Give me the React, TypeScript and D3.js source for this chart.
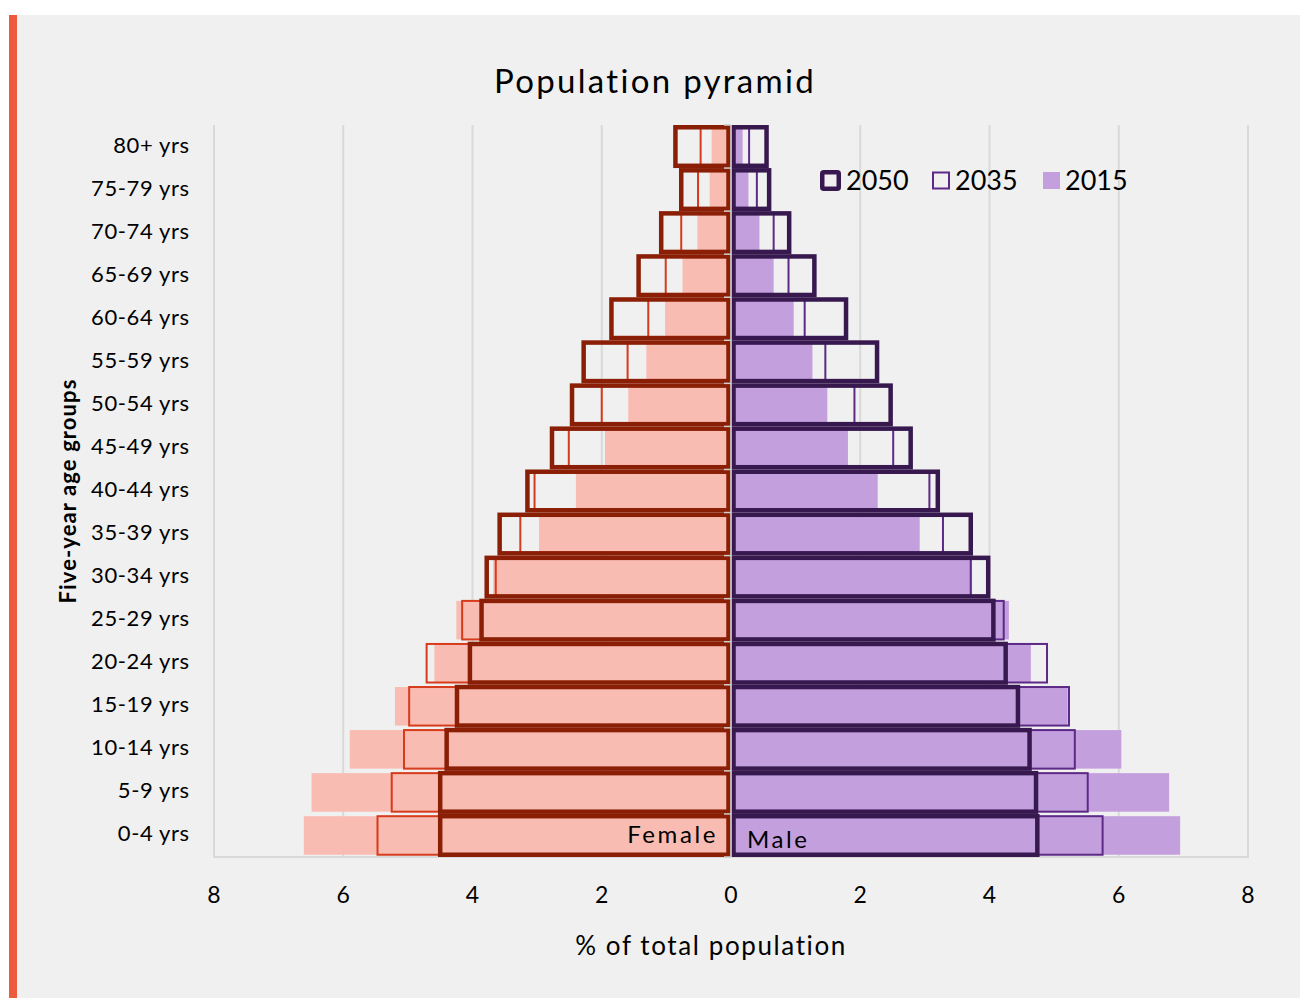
import { useRef, useEffect } from 'react';
import * as d3 from 'd3';

const WIDTH = 1300;
const HEIGHT = 998;
const PLOT = { left: 214, right: 1248, top: 125, bottom: 857 };
const FONT = 'Lato, "Open Sans", sans-serif';

// Age groups, bottom of the pyramid first.
const AGE_GROUPS = [
  '0-4 yrs', '5-9 yrs', '10-14 yrs', '15-19 yrs', '20-24 yrs', '25-29 yrs',
  '30-34 yrs', '35-39 yrs', '40-44 yrs', '45-49 yrs', '50-54 yrs', '55-59 yrs',
  '60-64 yrs', '65-69 yrs', '70-74 yrs', '75-79 yrs', '80+ yrs',
];
const X_TICKS = [-8, -6, -4, -2, 0, 2, 4, 6, 8];

// % of total population, same order as AGE_GROUPS.
const FEMALE_2015 = [6.61, 6.49, 5.90, 5.20, 4.59, 4.25, 3.68, 2.97, 2.40, 1.95, 1.59, 1.31, 1.02, 0.75, 0.52, 0.33, 0.30];
const FEMALE_2035 = [5.47, 5.25, 5.06, 4.98, 4.71, 4.16, 3.64, 3.26, 3.04, 2.51, 2.00, 1.60, 1.28, 1.01, 0.77, 0.51, 0.47];
const FEMALE_2050 = [4.50, 4.50, 4.40, 4.24, 4.04, 3.86, 3.78, 3.58, 3.15, 2.77, 2.46, 2.28, 1.85, 1.43, 1.08, 0.77, 0.86];

const MALE_2015 = [6.95, 6.78, 6.04, 5.21, 4.64, 4.30, 3.73, 2.92, 2.27, 1.81, 1.49, 1.26, 0.97, 0.66, 0.44, 0.27, 0.18];
const MALE_2035 = [5.75, 5.52, 5.32, 5.23, 4.89, 4.22, 3.71, 3.28, 3.07, 2.51, 1.91, 1.46, 1.14, 0.89, 0.66, 0.40, 0.28];
const MALE_2050 = [4.74, 4.72, 4.62, 4.44, 4.25, 4.06, 3.98, 3.71, 3.20, 2.78, 2.47, 2.26, 1.78, 1.29, 0.90, 0.59, 0.55];

const LEGEND_YEARS = ['2050', '2035', '2015'];

const FEMALE_COLORS = { fill: '#f9bcb2', mid: '#d63b1b', dark: '#8a1f06' };
const MALE_COLORS = { fill: '#c49fde', mid: '#5c2a86', dark: '#37184f' };

const STROKE_2050 = 4.5;
const STROKE_2035 = 2;
const CENTER_GAP = 2.5;

export default function App() {
  const svgRef = useRef<SVGSVGElement>(null);

  useEffect(() => {
    if (!svgRef.current) return;
    const svg = d3.select(svgRef.current);
    svg.selectAll('*').remove();

    // ── Scales ──────────────────────────────────────────────────────────
    const x = d3.scaleLinear().domain([-8, 8]).range([PLOT.left, PLOT.right]);
    const y = d3
      .scaleBand<string>()
      .domain([...AGE_GROUPS].reverse())
      .range([PLOT.top, PLOT.bottom])
      .paddingInner(0.105)
      .paddingOuter(0.0525);
    const x0 = x(0);

    // ── Background ──────────────────────────────────────────────────────
    svg.append('rect').attr('width', WIDTH).attr('height', HEIGHT).attr('fill', '#ffffff');
    svg.append('rect')
      .attr('x', 17).attr('y', 15)
      .attr('width', WIDTH - 17).attr('height', HEIGHT - 15)
      .attr('fill', '#f0f0f0');
    svg.append('rect')
      .attr('x', 9).attr('y', 15)
      .attr('width', 8).attr('height', HEIGHT - 15)
      .attr('fill', '#ee5a3e');

    // ── Grid ────────────────────────────────────────────────────────────
    svg.append('g')
      .selectAll('line')
      .data(X_TICKS.filter((d) => d !== 0))
      .join('line')
      .attr('x1', (d) => x(d)).attr('x2', (d) => x(d))
      .attr('y1', PLOT.top).attr('y2', PLOT.bottom)
      .attr('stroke', '#d9d9d9')
      .attr('stroke-width', 2);

    svg.append('line')
      .attr('x1', PLOT.left - 1).attr('x2', PLOT.right + 1)
      .attr('y1', PLOT.bottom).attr('y2', PLOT.bottom)
      .attr('stroke', '#d9d9d9')
      .attr('stroke-width', 2);

    // ── Bars ────────────────────────────────────────────────────────────
    const bh = y.bandwidth();

    const drawSide = (
      values: number[],
      sign: number,
      fill: string | null,
      stroke: string | null,
      strokeWidth: number,
    ) => {
      svg.append('g')
        .selectAll('rect')
        .data(values.map((v, i) => ({ v, age: AGE_GROUPS[i] })))
        .join('rect')
        .attr('x', (d) => (sign < 0 ? x(-d.v) : x0 + CENTER_GAP))
        .attr('width', (d) => Math.abs(x(sign * d.v) - x0) - CENTER_GAP)
        .attr('y', (d) => y(d.age)!)
        .attr('height', bh)
        .attr('fill', fill ?? 'none')
        .attr('stroke', stroke ?? 'none')
        .attr('stroke-width', strokeWidth);
    };

    drawSide(FEMALE_2015, -1, FEMALE_COLORS.fill, null, 0);
    drawSide(MALE_2015, 1, MALE_COLORS.fill, null, 0);
    drawSide(FEMALE_2035, -1, null, FEMALE_COLORS.mid, STROKE_2035);
    drawSide(MALE_2035, 1, null, MALE_COLORS.mid, STROKE_2035);
    drawSide(FEMALE_2050, -1, null, FEMALE_COLORS.dark, STROKE_2050);
    drawSide(MALE_2050, 1, null, MALE_COLORS.dark, STROKE_2050);

    // ── Category axis at zero ───────────────────────────────────────────
    svg.append('line')
      .attr('x1', x0).attr('x2', x0)
      .attr('y1', PLOT.top).attr('y2', PLOT.bottom)
      .attr('stroke', '#cfcfcf')
      .attr('stroke-width', 1.5);

    const step = y.step();
    svg.append('g')
      .selectAll('line')
      .data(d3.range(AGE_GROUPS.length + 1))
      .join('line')
      .attr('x1', x0 - 7).attr('x2', x0)
      .attr('y1', (i) => PLOT.top + i * step)
      .attr('y2', (i) => PLOT.top + i * step)
      .attr('stroke', '#cfcfcf')
      .attr('stroke-width', 1.5);

    // ── Category labels ─────────────────────────────────────────────────
    svg.append('g')
      .selectAll('text')
      .data(AGE_GROUPS)
      .join('text')
      .attr('x', 189.6)
      .attr('y', (d) => y(d)! + bh / 2 + 6)
      .attr('text-anchor', 'end')
      .attr('font-family', FONT)
      .attr('font-size', 22)
      .attr('letter-spacing', 0.6)
      .attr('fill', '#000')
      .text((d) => d);

    // ── X tick labels ───────────────────────────────────────────────────
    svg.append('g')
      .selectAll('text')
      .data(X_TICKS)
      .join('text')
      .attr('x', (d) => x(d))
      .attr('y', 903)
      .attr('text-anchor', 'middle')
      .attr('font-family', FONT)
      .attr('font-size', 23)
      .attr('fill', '#000')
      .text((d) => String(Math.abs(d)));

    // ── Titles ──────────────────────────────────────────────────────────
    svg.append('text')
      .attr('x', 655).attr('y', 93)
      .attr('text-anchor', 'middle')
      .attr('font-family', FONT)
      .attr('font-size', 33)
      .attr('letter-spacing', 2.3)
      .attr('fill', '#000')
      .text('Population pyramid');

    svg.append('text')
      .attr('x', 711).attr('y', 955)
      .attr('text-anchor', 'middle')
      .attr('font-family', FONT)
      .attr('font-size', 26)
      .attr('letter-spacing', 1.6)
      .attr('fill', '#000')
      .text('% of total population');

    svg.append('text')
      .attr('transform', 'translate(76,491) rotate(-90)')
      .attr('text-anchor', 'middle')
      .attr('font-family', FONT)
      .attr('font-size', 22)
      .attr('font-weight', 'bold')
      .attr('letter-spacing', 1.1)
      .attr('fill', '#000')
      .text('Five-year age groups');

    // ── Data labels inside bottom bars ──────────────────────────────────
    svg.append('text')
      .attr('x', x0 - 13).attr('y', 843)
      .attr('text-anchor', 'end')
      .attr('font-family', FONT)
      .attr('font-size', 24)
      .attr('letter-spacing', 2.6)
      .attr('fill', '#000')
      .text('Female');
    svg.append('text')
      .attr('x', x0 + 16).attr('y', 848)
      .attr('font-family', FONT)
      .attr('font-size', 24)
      .attr('letter-spacing', 2.6)
      .attr('fill', '#000')
      .text('Male');

    // ── Legend ──────────────────────────────────────────────────────────
    const legendItems = [
      { x: 820, size: 21, fill: 'none', stroke: MALE_COLORS.dark, sw: 4.5 },
      { x: 932, size: 18, fill: 'none', stroke: MALE_COLORS.mid, sw: 2 },
      { x: 1043, size: 17, fill: MALE_COLORS.fill, stroke: 'none', sw: 0 },
    ];
    const legend = svg.append('g');
    LEGEND_YEARS.forEach((label, i) => {
      const it = legendItems[i];
      const cy = 180.5;
      legend.append('rect')
        .attr('x', it.x + it.sw / 2)
        .attr('y', cy - it.size / 2 + it.sw / 2)
        .attr('width', it.size - it.sw)
        .attr('height', it.size - it.sw)
        .attr('rx', it.sw > 3 ? 1.5 : 0)
        .attr('fill', it.fill)
        .attr('stroke', it.stroke)
        .attr('stroke-width', it.sw);
      legend.append('text')
        .attr('x', it.x + it.size + 5)
        .attr('y', 190)
        .attr('font-family', FONT)
        .attr('font-size', 27)
        .attr('fill', '#000')
        .text(label);
    });
  }, []);

  return (
    <svg
      ref={svgRef}
      width={WIDTH}
      height={HEIGHT}
      style={{ position: 'absolute', left: 0, top: 0, display: 'block' }}
    />
  );
}
